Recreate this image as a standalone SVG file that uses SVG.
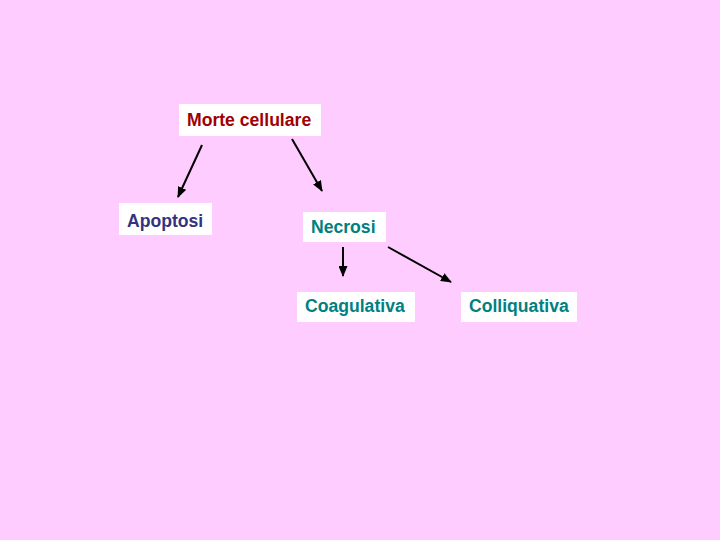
<svg xmlns="http://www.w3.org/2000/svg" width="720" height="540" viewBox="0 0 720 540">
<style>
.box{fill:#ffffff}
.t{font-family:"Liberation Sans",Arial,sans-serif;font-weight:bold;font-size:17.6px}
.red{fill:#a00000}
.blue{fill:#333380}
.teal{fill:#008080}
.c{stroke:#000;stroke-width:2;fill:none;marker-end:url(#ah)}
</style>
<defs>
<marker id="ah" markerWidth="11" markerHeight="9" refX="10" refY="4.5" orient="auto" markerUnits="userSpaceOnUse">
<path d="M0,0 L11,4.5 L0,9 Z" fill="#000"/>
</marker>
</defs>
<rect width="720" height="540" fill="#ffccff"/>
<g id="morte">
<rect class="box" x="179" y="104" width="142" height="32"/>
<text class="t red" x="187" y="126">Morte cellulare</text>
</g>
<g id="apoptosi">
<rect class="box" x="119" y="203" width="93" height="32"/>
<text class="t blue" x="127" y="227">Apoptosi</text>
</g>
<g id="necrosi">
<rect class="box" x="303" y="212" width="83" height="30"/>
<text class="t teal" x="311" y="233">Necrosi</text>
</g>
<g id="coagulativa">
<rect class="box" x="297" y="292" width="118" height="30"/>
<text class="t teal" x="305" y="312">Coagulativa</text>
</g>
<g id="colliquativa">
<rect class="box" x="461" y="292" width="116" height="30"/>
<text class="t teal" x="469" y="312">Colliquativa</text>
</g>
<g id="connectors">
<line class="c" x1="202" y1="145" x2="178" y2="197"/>
<line class="c" x1="292" y1="139" x2="322" y2="191"/>
<line class="c" x1="343" y1="247" x2="343" y2="276"/>
<line class="c" x1="388" y1="247" x2="451" y2="282"/>
</g>
</svg>
